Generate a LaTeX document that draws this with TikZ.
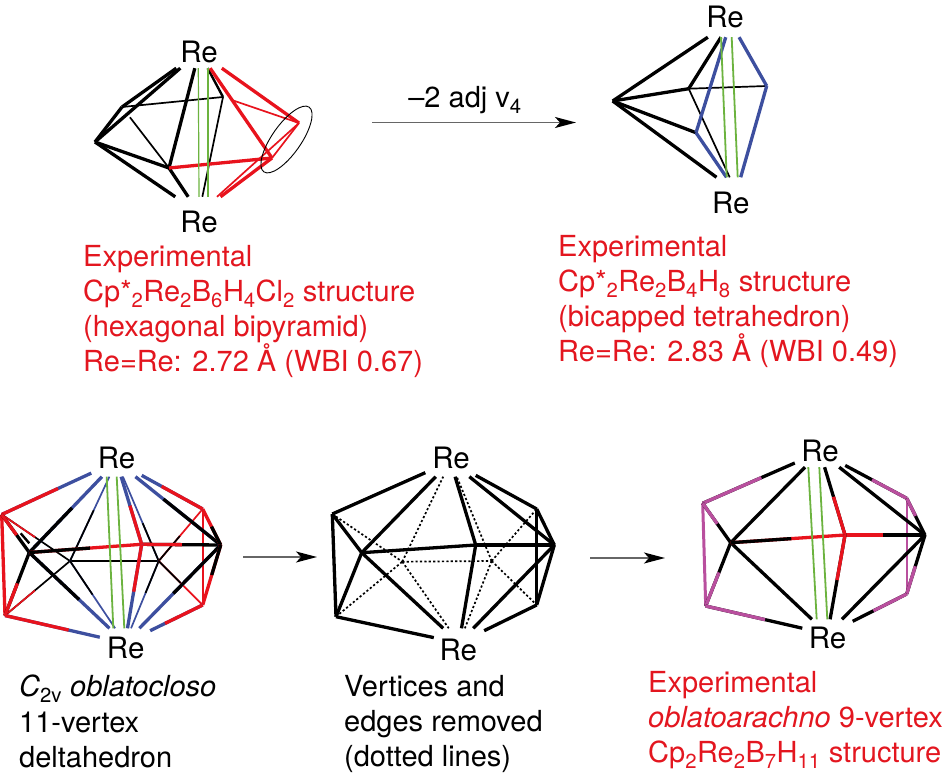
\documentclass[tikz,border=0pt]{standalone}
\usepackage{fontspec}
\setmainfont{TeX Gyre Heros}
\usetikzlibrary{calc,arrows.meta}
\definecolor{bondred}{HTML}{E8131D}
\definecolor{bondblue}{HTML}{3D4F9F}
\definecolor{bondgreen}{HTML}{6CB33F}
\definecolor{bondpink}{HTML}{B94F9E}
\definecolor{textred}{HTML}{E3161F}
\tikzset{
  rebox/.style 2 args={inner sep=0pt,minimum width=50pt,minimum height=30pt,
    label={[inner sep=0pt,font=\fontsize{29.5}{30}\selectfont,xshift=#1,yshift=#2]center:Re}},
  bond/.style={line width=3.3pt},
  midbond/.style={line width=2.4pt},
  thinbond/.style={line width=1.7pt},
  dotbond/.style={line width=1.7pt,dash pattern=on 2.2pt off 2.2pt},
  rebond/.style={line width=1.8pt,bondgreen},
  caption/.style={inner sep=0pt,anchor=north west,align=left,font=\fontsize{29}{35.2}\selectfont},
  reaction/.style={line width=1.6pt,black!60,-{Stealth[length=21pt,width=11pt,inset=5pt,black]}}
}
% first colour up to the fraction, second colour after it
\newcommand{\duo}[6]{\draw[#1,#3] (#4) -- (#5); \draw[#1,#2] (#4) -- ($(#4)!#6!(#5)$);}
\begin{document}
\begin{tikzpicture}[x=1pt,y=-1pt]
  \useasboundingbox (0,0) rectangle (946,779);
  % vertices, panel by panel
  \foreach \n/\x/\y in {a1/95/142,a2/122/107,a3/169/168,a4/223/97,a5/299/123,a6/272/158,
    b1/612.7/101,b2/688.7/88.7,b3/696/132.7,b4/766.7/86,
    c1/1.7/514.5,c2/5/615.5,c3/29.3/552.5,c4/70/561,c5/141.7/544.3,c6/158.7/561,c7/220.7/545,c8/202.7/509,c9/202.7/605,
    d1/332.3/514,d2/336/616.7,d3/361.7/552.7,d4/402.3/561.7,d5/475.7/545,d6/491.7/561,d7/554.3/545,d8/536.7/509,d9/536.7/605,
    e1/702.7/503.3,e2/705.7/606,e3/730.7/542.7,e5/845/535,e7/925/535,e8/906.7/498.3,e9/906.7/594,
    ring/286.5/139.5,dash1/20.7/533.3,dash2/29.3/543.3,
    arr1s/372/122.5,arr1e/576/122.5,arr2s/243/557,arr2e/317/557,arr3s/590/558,arr3e/665/558}
    \coordinate (\n) at (\x,\y);
  % Re atoms
  \node[rebox={0pt}{0pt},minimum height=32pt] (re1t) at (199,52) {};
  \node[rebox={0pt}{-8.7pt},minimum height=32pt] (re1b) at (199,213) {};
  \node[rebox={-5.5pt}{5.3pt}] (re2t) at (730.5,22) {};
  \node[rebox={-5.8pt}{-11.3pt},minimum height=29pt] (re2b) at (736.5,192) {};
  \node[rebox={0pt}{3.8pt}] (re3t) at (116.5,461.5) {};
  \node[rebox={0.7pt}{-5pt},minimum height=29pt] (re3b) at (125,643) {};
  \node[rebox={0.5pt}{3.8pt}] (re4t) at (450.5,461.5) {};
  \node[rebox={-0.7pt}{-7pt},minimum height=29pt] (re4b) at (459,643) {};
  \node[rebox={0pt}{1.3pt}] (re5t) at (820,452) {};
  \node[rebox={0pt}{-4.3pt},minimum height=29pt] (re5b) at (827.5,634) {};

  % hexagonal bipyramid
  \draw[thinbond] (a2) -- (a4);
  \draw[thinbond,shorten <=13pt] (a2) -- (a3);
  \draw[thinbond] (a4) -- (re1b);
  \draw[midbond] (a4) -- (re1t);
  \draw[bond] (a1) -- (re1t);
  \draw[bond] (a2) -- (re1t);
  \draw[bond] (a1) -- (a2);
  \draw[bond] (a3) -- (re1t);
  \draw[bond] (a1) -- (a3);
  \draw[bond] (a1) -- (re1b);
  \draw[bond] (a3) -- (re1b);
  \draw[thinbond,bondred,shorten <=10pt] (a4) -- (a5);
  \draw[thinbond,bondred] (a5) -- (re1b);
  \draw[thinbond,bondred] (a5) -- (a6);
  \draw[bond,bondred] (a3) -- (a6);
  \draw[bond,bondred] (a6) -- (re1t);
  \draw[bond,bondred] (a5) -- (re1t);
  \draw[bond,bondred] (a6) -- (re1b);
  \draw[rebond,line width=1.2pt] ([xshift=-0.7pt]re1t.south) -- ([xshift=0pt]re1b.north);
  \draw[rebond] ([xshift=9pt]re1t.south) -- ([xshift=9pt]re1b.north);
  \draw[line width=0.9pt,rotate around={55:(ring)}] (ring) ellipse [x radius=39.5pt,y radius=14.5pt];

  % bicapped tetrahedron
  \draw[thinbond] (b2) -- (b4);
  \draw[thinbond] (b2) -- (re2b);
  \draw[bond] (b1) -- (re2t);
  \draw[bond] (b1) -- (b2);
  \draw[bond] (b2) -- (re2t);
  \draw[bond] (b1) -- (b3);
  \draw[bond] (b1) -- (re2b);
  \draw[bond,bondblue] (b3) -- (re2t);
  \draw[bond,bondblue] (b3) -- (re2b);
  \draw[bond,bondblue] (b4) -- (re2t);
  \draw[bond,bondblue] (b4) -- (re2b);
  \draw[rebond] ([xshift=-9.5pt]re2t.south) -- ([xshift=-9.8pt]re2b.north);
  \draw[rebond] ([xshift=1.2pt]re2t.south) -- ([xshift=1.2pt]re2b.north);

  % oblatocloso
  \draw[thinbond] (c4) -- (c6);
  \duo{thinbond}{bondred}{black}{c1}{c4}{.49}
  \duo{thinbond}{bondred}{black}{c2}{c4}{.46}
  \duo{thinbond}{black}{bondblue}{c4}{re3t}{.51}
  \duo{thinbond}{black}{bondblue}{c4}{re3b}{.41}
  \duo{thinbond}{black}{bondblue}{c6}{re3t}{.38}
  \duo{thinbond}{black}{bondblue}{c6}{re3b}{.39}
  \duo{thinbond}{black}{bondred}{c6}{c8}{.48}
  \duo{thinbond}{black}{bondred}{c6}{c9}{.50}
  \draw[midbond,bondred] (c8) -- (c9);
  \draw[bond,bondred] (c1) -- (c2);
  \draw[midbond] (dash1) -- (dash2);
  \duo{bond}{bondred}{bondblue}{c1}{re3t}{.49}
  \duo{bond}{bondred}{black}{c1}{c3}{.54}
  \duo{bond}{bondred}{black}{c2}{c3}{.51}
  \duo{bond}{bondred}{bondblue}{c2}{re3b}{.53}
  \duo{bond}{black}{bondblue}{c3}{re3t}{.49}
  \duo{bond}{black}{bondblue}{c3}{re3b}{.52}
  \duo{bond}{black}{bondred}{c3}{c5}{.54}
  \duo{bond}{bondred}{black}{c5}{c7}{.51}
  \duo{bond}{bondred}{bondblue}{c5}{re3t}{.466}
  \duo{bond}{bondred}{bondblue}{c5}{re3b}{.48}
  \duo{bond}{black}{bondblue}{c7}{re3t}{.55}
  \duo{bond}{black}{bondblue}{c7}{re3b}{.495}
  \duo{bond}{black}{bondred}{c7}{c8}{.51}
  \duo{bond}{black}{bondred}{c7}{c9}{.50}
  \duo{bond}{bondred}{bondblue}{c8}{re3t}{.476}
  \duo{bond}{bondred}{bondblue}{c9}{re3b}{.485}
  \draw[rebond] ([xshift=-9.8pt]re3t.south) -- ([xshift=-11.7pt]re3b.north);
  \draw[rebond] ([xshift=0.2pt]re3t.south) -- ([xshift=-0.7pt]re3b.north);

  % vertices and edges removed
  \draw[dotbond] (d1) -- (d4);
  \draw[dotbond] (d2) -- (d4);
  \draw[dotbond] (d4) -- (d6);
  \draw[dotbond] (d4) -- (re4t);
  \draw[dotbond] (d4) -- (re4b);
  \draw[dotbond] (d6) -- (re4t);
  \draw[dotbond] (d6) -- (re4b);
  \draw[dotbond] (d6) -- (d8);
  \draw[dotbond] (d6) -- (d9);
  \foreach \i/\j in {d1/re4t,d3/re4t,d5/re4t,d7/re4t,d8/re4t,d1/d3,d1/d2,d2/d3,d3/d5,d5/d7,
    d3/re4b,d5/re4b,d7/re4b,d2/re4b,d9/re4b,d7/d8,d7/d9,d8/d9}
    \draw[bond] (\i) -- (\j);

  % oblatoarachno
  \draw[midbond,bondpink] (e8) -- (e9);
  \draw[midbond,bondpink,line width=3pt] (e1) -- (e2);
  \draw[bond] (e3) -- (re5t);
  \draw[bond] (e7) -- (re5t);
  \draw[bond] (e3) -- (re5b);
  \draw[bond] (e7) -- (re5b);
  \duo{bond}{bondpink}{black}{e1}{re5t}{.50}
  \duo{bond}{bondpink}{black}{e1}{e3}{.52}
  \duo{bond}{bondpink}{black}{e2}{e3}{.53}
  \duo{bond}{bondpink}{black}{e2}{re5b}{.487}
  \duo{bond}{black}{bondred}{e3}{e5}{.53}
  \duo{bond}{bondred}{black}{e5}{e7}{.47}
  \duo{bond}{bondred}{black}{e5}{re5t}{.46}
  \duo{bond}{bondred}{black}{e5}{re5b}{.455}
  \duo{bond}{bondpink}{black}{e8}{re5t}{.40}
  \duo{bond}{bondpink}{black}{e8}{e7}{.48}
  \duo{bond}{bondpink}{black}{e9}{e7}{.47}
  \duo{bond}{bondpink}{black}{e9}{re5b}{.42}
  \draw[rebond] ([xshift=-11.7pt]re5t.south) -- ([xshift=-10.8pt]re5b.north);
  \draw[rebond] ([xshift=-0.7pt]re5t.south) -- ([xshift=-0.2pt]re5b.north);

  % reaction arrows
  \draw[reaction] (arr1s) -- node[above=8pt,xshift=-9pt,inner sep=0pt,text=black,font=\fontsize{29}{35}\selectfont] (arr1lab) {--2 adj v\textsubscript{4}} (arr1e);
  \draw[reaction] (arr2s) -- (arr2e);
  \draw[reaction] (arr3s) -- (arr3e);

  % captions
  \node[caption,textred] (cap1) at (83,245) {Experimental\\Cp*\textsubscript{2}Re\textsubscript{2}B\textsubscript{6}H\textsubscript{4}Cl\textsubscript{2} structure\\(hexagonal bipyramid)\\Re=Re: 2.72 Å (WBI 0.67)};
  \node[caption,textred] (cap2) at (558,235) {Experimental\\Cp*\textsubscript{2}Re\textsubscript{2}B\textsubscript{4}H\textsubscript{8} structure\\(bicapped tetrahedron)\\Re=Re: 2.83 Å (WBI 0.49)};
  \node[caption] (cap3) at (19,675) {\textit{C}\textsubscript{2v} \textit{oblatocloso}\\11-vertex\\deltahedron};
  \node[caption] (cap4) at (344,675) {Vertices and\\edges removed\\(dotted lines)};
  \node[caption,textred] (cap5) at (648,671) {Experimental\\\textit{oblatoarachno} 9-vertex\\Cp\textsubscript{2}Re\textsubscript{2}B\textsubscript{7}H\textsubscript{11} structure};
\end{tikzpicture}
\end{document}
